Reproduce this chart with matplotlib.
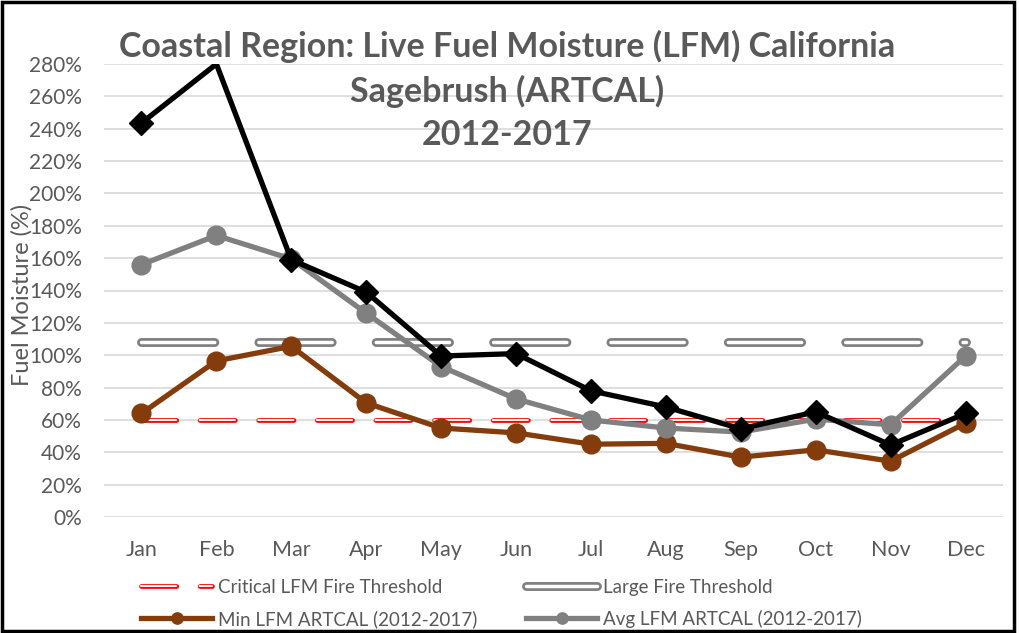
import matplotlib

matplotlib.use("Agg")
import matplotlib.pyplot as plt  # noqa: E402
import matplotlib.patheffects as pe  # noqa: E402
from matplotlib.patches import Rectangle  # noqa: E402

plt.rcParams["font.family"] = ["Lato", "DejaVu Sans"]
plt.rcParams["lines.scale_dashes"] = False

months = ["Jan", "Feb", "Mar", "Apr", "May", "Jun",
          "Jul", "Aug", "Sep", "Oct", "Nov", "Dec"]
critical_lfm = [60] * 12
large_fire = [108] * 12
min_lfm = [64, 96.5, 105.5, 70.5, 55, 52, 45, 45.5, 37, 41.5, 34.5, 58]
avg_lfm = [156, 174, 159.5, 126, 93, 73, 60, 55, 52.5, 60.5, 57, 99.5]
cur_lfm = [243.5, 280, 159, 139, 99.5, 101, 78, 68, 54.5, 65, 44.5, 64]
yticks = list(range(0, 281, 20))

TXT = "#595959"
W, H = 1019, 633
x = list(range(len(months)))

fig = plt.figure(figsize=(W / 100, H / 100), dpi=100)
ax = fig.add_axes([104 / W, 1 - 517 / H, 899 / W, 453 / H])

# thresholds: outlined dashed lines (white core over coloured stroke)
crit, = ax.plot(x, critical_lfm, color="white", lw=1.4, dashes=(25.4, 16.8),
                dash_capstyle="round", zorder=2,
                path_effects=[pe.Stroke(linewidth=3.4, foreground="#FF0000"), pe.Normal()],
                label="Critical LFM Fire Threshold")
large, = ax.plot(x, large_fire, color="white", lw=2.5, dashes=(52.8, 31.7),
                 dash_capstyle="round", zorder=2,
                 path_effects=[pe.Stroke(linewidth=6.4, foreground="#808080"), pe.Normal()],
                 label="Large Fire Threshold")

mn, = ax.plot(x, min_lfm, color="#843C0C", lw=3.8, marker="o", ms=13.5, zorder=3,
              label="Min LFM ARTCAL (2012-2017)")
av, = ax.plot(x, avg_lfm, color="#808080", lw=3.8, marker="o", ms=13.5, zorder=4,
              label="Avg LFM ARTCAL (2012-2017)")
ax.plot(x, cur_lfm, color="black", lw=3.8, marker="D", ms=12.5, zorder=5,
        markevery=[i for i in x if i != 1])

ax.set_xlim(-0.5, 11.5)
ax.set_ylim(0, 280)
ax.set_xticks(x)
ax.set_xticklabels(months)
ax.set_yticks(yticks)
ax.set_yticklabels([f"{v}%" for v in yticks])
ax.tick_params(length=0, labelcolor=TXT)
ax.tick_params(axis="y", labelsize=15, pad=16)
ax.tick_params(axis="x", labelsize=15.5, pad=16.5)
for s in ax.spines.values():
    s.set_visible(False)
ax.grid(axis="y", color="#D9D9D9", lw=1.2, zorder=0)
ax.set_axisbelow(True)

fig.text(22 / W, 1 - 295 / H, "Fuel Moisture (%)", rotation=90, fontsize=17,
         color=TXT, ha="center", va="center")
fig.text(507 / W, 1 - 30 / H, "Coastal Region: Live Fuel Moisture (LFM) California\n"
         "Sagebrush (ARTCAL)\n2012-2017", fontsize=24.5, fontweight="bold",
         family="Lato", color=TXT, ha="center", va="top", linespacing=1.42)

leg = fig.legend(handles=[crit, mn, large, av], loc="upper left",
                 bbox_to_anchor=(141 / W, 1 - 579 / H), ncol=2, frameon=False,
                 borderaxespad=0, borderpad=0,
                 fontsize=13.5, handlelength=3.8, handletextpad=0.3,
                 columnspacing=2.6, labelspacing=0.74, markerscale=0.6)
for t in leg.get_texts():
    t.set_color(TXT)

fig.patches.append(Rectangle((0.002, 0.003), 0.993, 0.994, transform=fig.transFigure,
                             fill=False, edgecolor="black", lw=2.5))

fig.savefig("out.png", dpi=100)
